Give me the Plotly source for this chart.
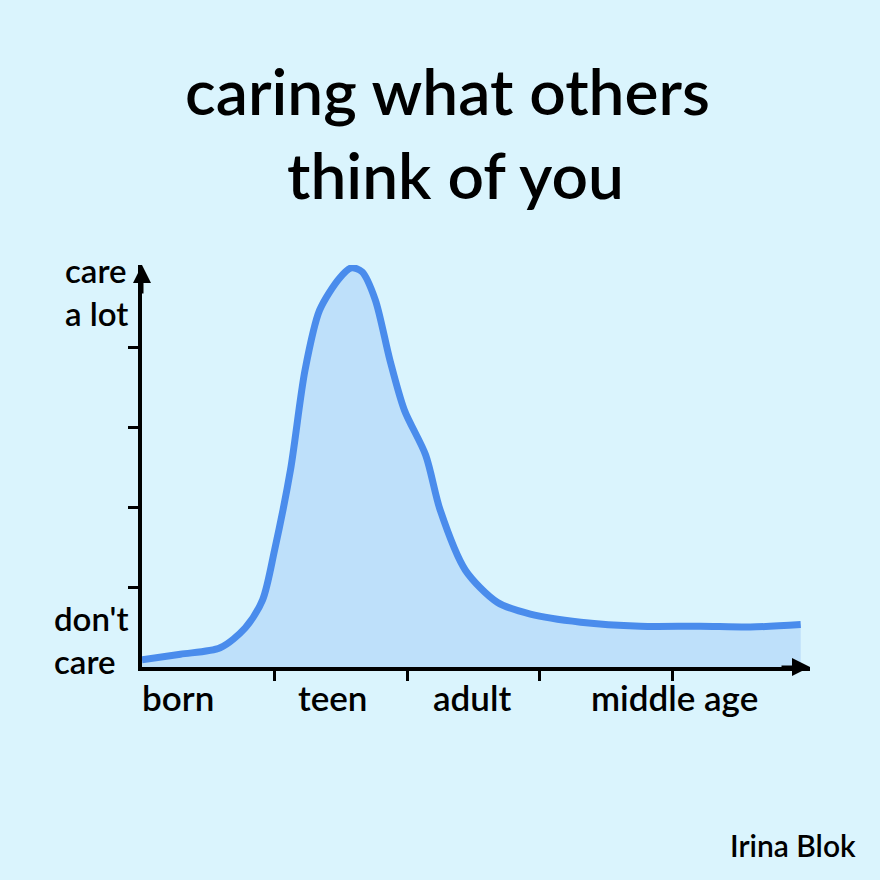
import plotly.graph_objects as go

# life stage position (x) and how much one cares (y)
life_x = [0.0, 0.29, 0.59, 0.78, 0.91, 1.0, 1.12, 1.23, 1.34, 1.49, 1.58, 1.66, 1.76, 1.87, 1.98,
          2.14, 2.25, 2.44, 2.68, 2.93, 3.31, 3.76, 4.21, 4.59, 4.97]
care_y = [0.09, 0.16, 0.24, 0.49, 0.84, 1.46, 2.46, 3.71, 4.46, 4.86, 4.99, 4.94, 4.59, 3.84, 3.21,
          2.65, 1.96, 1.21, 0.81, 0.66, 0.56, 0.51, 0.51, 0.50, 0.53]

stage_labels = ["born", "teen", "adult", "middle age"]
stage_label_x = [0.27, 1.44, 2.49, 4.02]
x_ticks = [1, 2, 3, 4]
y_ticks = [1, 2, 3, 4]
title_lines = ["caring what others", "think of you"]

BG = "#DAF4FD"
FONT = "Lato"

fig = go.Figure()
fig.add_trace(go.Scatter(
    x=life_x, y=care_y, mode="lines",
    line=dict(color="#4A8CEC", width=7, shape="spline", smoothing=0.8),
    fill="tozeroy", fillcolor="#BEE0FA", hoverinfo="skip",
))

fig.update_layout(
    width=880, height=880,
    paper_bgcolor=BG, plot_bgcolor=BG,
    margin=dict(l=142, r=70, t=265, b=213),
    showlegend=False,
    xaxis=dict(range=[0, 5.04], showgrid=False, zeroline=False, showline=True,
               linecolor="black", linewidth=4, ticks="outside", tickvals=x_ticks,
               ticktext=["" for _ in x_ticks], ticklen=10, tickwidth=3, tickcolor="black",
               fixedrange=True),
    yaxis=dict(range=[0, 5.025], showgrid=False, zeroline=False, showline=True,
               linecolor="black", linewidth=4, ticks="outside", tickvals=y_ticks,
               ticktext=["" for _ in y_ticks], ticklen=10, tickwidth=3, tickcolor="black",
               fixedrange=True),
)

# title (two lines, tight spacing)
fig.add_annotation(x=0.457, y=1.435, xref="paper", yref="paper", showarrow=False,
                   text=title_lines[0], xanchor="center", yanchor="middle",
                   font=dict(family=FONT, size=64, color="black", weight=600))
fig.add_annotation(x=0.469, y=1.226, xref="paper", yref="paper", showarrow=False,
                   text=title_lines[1], xanchor="center", yanchor="middle",
                   font=dict(family=FONT, size=64, color="black", weight=600))

# axis arrowheads
fig.add_annotation(x=5.04, y=0, ax=-30, ay=0, xref="x", yref="y", showarrow=True,
                   arrowhead=2, arrowsize=1.2, arrowwidth=3, arrowcolor="black", text="")
fig.add_annotation(x=0, y=5.025, ax=0, ay=30, xref="x", yref="y", showarrow=True,
                   arrowhead=2, arrowsize=1.2, arrowwidth=3, arrowcolor="black", text="")

for lab, lx in zip(stage_labels, stage_label_x):
    fig.add_annotation(x=lx, y=0, xref="x", yref="y", yshift=-30, showarrow=False,
                       text=lab, font=dict(family=FONT, size=35, color="black", weight=600),
                       xanchor="center", yanchor="middle")

fig.add_annotation(x=0, y=4.69, xref="x", yref="y", xshift=-12, showarrow=False,
                   text="care<br>a lot", align="left", xanchor="right", yanchor="middle",
                   font=dict(family=FONT, size=33, color="black", weight=600))
fig.add_annotation(x=0, y=0.34, xref="x", yref="y", xshift=-12, showarrow=False,
                   text="don't<br>care", align="left", xanchor="right", yanchor="middle",
                   font=dict(family=FONT, size=33, color="black", weight=600))

fig.add_annotation(x=1.072, y=-0.443, xref="paper", yref="paper", showarrow=False,
                   text="Irina Blok", xanchor="right", yanchor="middle",
                   font=dict(family=FONT, size=30, color="black", weight=600))

fig.write_html("out.html", config={"displayModeBar": False},
               post_script="document.body.style.margin='0';document.body.style.background='%s';" % BG)
